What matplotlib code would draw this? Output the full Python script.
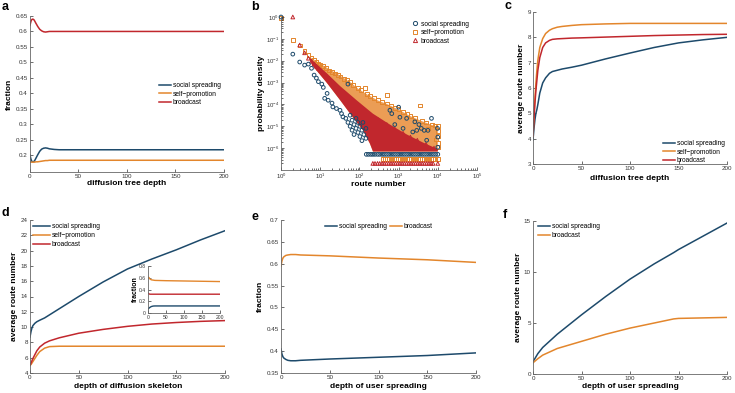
import numpy as np
import matplotlib
matplotlib.use("Agg")
import matplotlib.pyplot as plt

W, H = 735, 393

BLUE = '#1d4a6b'
ORANGE = '#e3862c'
RED = '#c1272d'
ORANGE_CORE = '#eb9d55'

# ---- panel a : fraction vs diffusion tree depth
a_x = [0, 1, 2, 3, 4, 5, 6, 8, 10, 12, 14, 16, 18, 20, 25, 30, 40, 60, 100, 150, 200]
a_social = [0.200, 0.186, 0.179, 0.178, 0.179, 0.183, 0.189, 0.201, 0.212, 0.219, 0.222, 0.223,
            0.222, 0.220, 0.218, 0.217, 0.217, 0.217, 0.217, 0.217, 0.217]
a_self = [0.177, 0.177, 0.177, 0.177, 0.177, 0.177, 0.178, 0.178, 0.179, 0.180, 0.181, 0.182,
          0.182, 0.183, 0.183, 0.183, 0.183, 0.183, 0.183, 0.183, 0.183]
a_broad = [0.620, 0.633, 0.639, 0.640, 0.638, 0.633, 0.627, 0.616, 0.607, 0.602, 0.599, 0.598,
           0.599, 0.600, 0.600, 0.600, 0.600, 0.600, 0.600, 0.600, 0.600]

# ---- panel b : route number distribution
b_social = [(1, 1.0), (2, 0.02), (3, 0.0087), (4, 0.0063), (5, 0.007), (6, 0.0045), (7, 0.0022),
            (8, 0.0016), (9, 0.0011), (11, 8.5e-4), (12, 6e-4), (13, 1.9e-4), (15, 3.2e-4),
            (16, 1.55e-4), (20, 1.15e-4), (21, 7.7e-5), (26, 6.5e-5), (32, 5.4e-5), (35, 3.8e-5),
            (38, 2.7e-5), (51, 8.5e-4), (45, 2.3e-5), (51, 1.5e-5), (58, 3.2e-5), (58, 1e-5),
            (65, 1.9e-5), (65, 6.6e-6), (73, 1.2e-5), (73, 4.2e-6), (82, 2.3e-5), (82, 8e-6),
            (92, 1.5e-5), (92, 5.2e-6), (103, 1e-5), (103, 3.4e-6), (116, 6.6e-6), (116, 2.2e-6),
            (123, 1.5e-5), (130, 4.2e-6), (147, 2.8e-6), (147, 8e-6), (600, 5.4e-5), (670, 3.8e-5),
            (1000, 7.5e-5), (1080, 2.6e-5), (1600, 2.3e-5), (2300, 5.5e-6), (2600, 1.6e-5),
            (2900, 6.5e-6), (3800, 8e-6), (4500, 6.5e-6), (5200, 2.3e-6), (5600, 6.5e-6),
            (6900, 2.3e-5), (9800, 8e-6), (10000, 3.2e-6), (10000, 1.1e-6), (800, 1.2e-5),
            (1300, 8e-6), (3300, 1.2e-5)]
b_social_floor_x = [150, 170, 195, 220, 250, 290, 330, 380, 430, 490, 560, 640, 730, 830, 950,
                    1080, 1230, 1400, 1600, 1820, 2080, 2370, 2700, 3080, 3500, 4000, 4560, 5200,
                    5930, 6760, 7700, 8780, 10000]
b_social_floor_y = 5.2e-7

b_self = [(1, 0.93), (2, 0.088), (3, 0.05), (4, 0.028), (5, 0.018), (6, 0.014), (7, 0.011),
          (8, 0.009), (9, 0.0075), (10, 0.0068), (12, 0.0058), (14, 0.0045), (17, 0.0036),
          (20, 0.0030), (24, 0.0026), (28, 0.0022), (33, 0.0019), (40, 0.0015), (48, 0.0013),
          (58, 0.0011), (70, 8e-4), (92, 5.7e-4), (139, 5.7e-4), (110, 4.5e-4), (156, 3e-4),
          (190, 2.4e-4), (240, 2.0e-4), (300, 1.6e-4), (380, 1.3e-4), (500, 2.7e-4), (500, 1.1e-4),
          (650, 9e-5), (800, 7e-5), (1000, 6e-5), (1300, 4.5e-5), (1700, 3.6e-5), (2000, 3e-5),
          (2600, 2.4e-5), (3500, 9e-5), (4000, 1.8e-5), (5000, 1.5e-5), (5600, 8e-6),
          (7000, 1.2e-5), (8500, 1.1e-5), (10000, 1e-5), (10000, 1.7e-6), (10000, 1.1e-6),
          (10000, 6e-6), (10000, 3.5e-6), (9000, 2.5e-6)]
b_self_floor_x = [400, 450, 510, 580, 660, 750, 850, 970, 1100, 1250, 1420, 1620, 1840, 2090,
                  2380, 2700, 3070, 3490, 3970, 4510, 5130, 5830, 6630, 7540, 8570, 10000]
b_self_floor_y = 3.1e-7
b_self_top_x = [5, 12, 32, 58, 92, 156, 300, 500, 1000, 2000, 4000, 7000, 10000]
b_self_top_y = [0.016, 6e-3, 2.1e-3, 1.05e-3, 5.3e-4, 2.9e-4, 1.5e-4, 1.05e-4, 5.8e-5, 2.9e-5,
                1.7e-5, 1.15e-5, 9.5e-6]

b_broad = [(2, 1.0), (3, 0.052), (4, 0.023), (5, 0.013), (6, 0.0095), (7, 0.0072), (8, 0.0056),
           (9, 0.0045), (10, 0.0038), (12, 0.0027), (14, 0.0021), (17, 0.0015), (20, 0.0011),
           (25, 7.5e-4), (30, 5.5e-4), (40, 3.4e-4), (55, 2.1e-4), (75, 1.3e-4), (100, 8e-5),
           (140, 5e-5), (200, 3.2e-5), (300, 2e-5), (500, 1.2e-5), (800, 7.5e-6), (1300, 4.8e-6),
           (2000, 3.2e-6), (3000, 2.3e-6), (5000, 1.5e-6), (8000, 1.0e-6), (10000, 2e-7)]
b_broad_floor_x = [220, 250, 290, 330, 380, 430, 490, 560, 640, 730, 830, 950, 1080, 1230, 1400,
                   1600, 1820, 2080, 2370, 2700, 3080, 3500, 4000, 4560, 5200, 5930, 6760, 7600]
b_broad_floor_y = 2e-7
b_broad_top_x = [5.5, 15, 32, 87, 220, 600, 1630, 4200, 10000]
b_broad_top_y = [0.013, 2.6e-3, 7e-4, 1.5e-4, 3.8e-5, 1.2e-5, 4.2e-6, 1.8e-6, 9e-7]
b_broad_low_x = [5.5, 6.2, 15, 32, 68, 123, 186, 222, 10000]
b_broad_low_y = [0.011, 6.3e-3, 9.4e-4, 1.6e-4, 2.6e-5, 6.6e-6, 1.6e-6, 7e-7, 7e-7]

# ---- panel c
c_x = [0, 1, 2, 3, 4, 5, 7, 10, 13, 17, 20, 25, 30, 40, 50, 75, 100, 125, 150, 175, 200]
c_social = [3.95, 4.4, 4.75, 5.0, 5.15, 5.35, 5.8, 6.2, 6.4, 6.58, 6.65, 6.7, 6.75, 6.82, 6.9,
            7.15, 7.38, 7.6, 7.78, 7.9, 8.0]
c_self = [4.1, 4.9, 5.6, 6.2, 6.7, 7.1, 7.6, 7.95, 8.15, 8.28, 8.34, 8.4, 8.43, 8.47, 8.5, 8.53,
          8.55, 8.55, 8.55, 8.55, 8.55]
c_broad = [4.1, 4.8, 5.4, 5.9, 6.3, 6.7, 7.2, 7.6, 7.78, 7.88, 7.92, 7.94, 7.95, 7.97, 7.98,
           8.01, 8.04, 8.07, 8.09, 8.11, 8.12]

# ---- panel d
d_x = [0, 1, 2, 3, 5, 7, 10, 15, 20, 30, 50, 75, 100, 125, 150, 175, 200]
d_social = [8.7, 9.4, 9.9, 10.2, 10.5, 10.7, 10.9, 11.2, 11.6, 12.4, 14.0, 15.9, 17.6, 18.9, 20.1,
            21.4, 22.6]
d_self = [5.0, 5.1, 5.3, 5.5, 5.9, 6.3, 6.8, 7.25, 7.45, 7.5, 7.5, 7.5, 7.5, 7.5, 7.5, 7.5, 7.5]
d_broad = [5.0, 5.3, 5.6, 5.9, 6.4, 6.9, 7.4, 7.9, 8.2, 8.6, 9.2, 9.7, 10.1, 10.4, 10.6, 10.75,
           10.85]
# inset of d
in_x = [0, 2, 4, 6, 10, 15, 20, 50, 100, 150, 200]
in_social = [0.065, 0.075, 0.085, 0.095, 0.11, 0.118, 0.12, 0.12, 0.12, 0.12, 0.12]
in_self = [0.60, 0.61, 0.60, 0.58, 0.565, 0.56, 0.555, 0.55, 0.545, 0.54, 0.535]
in_broad = [0.345, 0.33, 0.325, 0.32, 0.32, 0.32, 0.32, 0.32, 0.32, 0.32, 0.32]

# ---- panel e
e_x = [0, 1, 2, 3, 5, 7, 10, 15, 20, 50, 100, 150, 200]
e_social = [0.405, 0.393, 0.387, 0.384, 0.381, 0.379, 0.378, 0.378, 0.379, 0.382, 0.386, 0.390,
            0.396]
e_broad = [0.595, 0.607, 0.613, 0.616, 0.619, 0.620, 0.621, 0.621, 0.620, 0.618, 0.613, 0.609,
           0.603]

# ---- panel f
f_x = [0, 5, 10, 25, 50, 75, 100, 125, 145, 150, 175, 200]
f_social = [1.2, 2.0, 2.6, 3.9, 5.8, 7.6, 9.3, 10.8, 11.9, 12.2, 13.5, 14.8]
f_broad = [1.1, 1.5, 1.85, 2.5, 3.2, 3.9, 4.5, 5.0, 5.4, 5.45, 5.5, 5.55]

plt.rcParams['font.family'] = ['Liberation Sans', 'DejaVu Sans']
plt.rcParams['axes.unicode_minus'] = False

fig = plt.figure(figsize=(W / 100, H / 100), dpi=100)


def box(l, t, r, b):
    return [l / W, 1 - b / H, (r - l) / W, (b - t) / H]


def fxy(px, py):
    return (px / W, 1 - py / H)


def style(ax, size=4.5):
    for s in ['top', 'right']:
        ax.spines[s].set_visible(False)
    for s in ['left', 'bottom']:
        ax.spines[s].set_linewidth(0.6)
        ax.spines[s].set_color('#666666')
    ax.tick_params(which='both', direction='in', length=2, width=0.5, labelsize=size,
                   colors='#333333', pad=1.5)
    ax.tick_params(which='minor', length=1.2)


def labels(ax, xl, yl, xc, yc, ylx, yly):
    ax.set_xlabel(xl, fontsize=6, fontweight='bold', va='center')
    ax.xaxis.set_label_coords(*fxy(xc, yc), transform=fig.transFigure)
    ax.set_ylabel(yl, fontsize=6, fontweight='bold', va='center')
    ax.yaxis.set_label_coords(*fxy(ylx, yly), transform=fig.transFigure)


def legend(ax, handles, px, py, hl=1.8, ncol=1):
    ax.legend(handles=handles, loc='upper left', bbox_to_anchor=fxy(px, py),
              bbox_transform=fig.transFigure, frameon=False, fontsize=4.8, borderpad=0,
              borderaxespad=0, handlelength=hl, handletextpad=0.3, labelspacing=0.25,
              ncol=ncol, columnspacing=0.4)


def panel_letter(ch, px, py):
    fig.text(*fxy(px, py), ch, fontsize=9, fontweight='bold', ha='center', va='center')


lw = 1.1
xt = [0, 50, 100, 150, 200]

# a
ax = fig.add_axes(box(30, 16, 224, 172))
la, = ax.plot(a_x, a_social, color=BLUE, lw=lw, label='social spreading')
lb, = ax.plot(a_x, a_self, color=ORANGE, lw=lw, label='self\u2212promotion')
lc, = ax.plot(a_x, a_broad, color=RED, lw=lw, label='broadcast')
ax.set_xlim(0, 200)
ax.set_ylim(0.145, 0.65)
yt = [0.2, 0.25, 0.3, 0.35, 0.4, 0.45, 0.5, 0.55, 0.6, 0.65]
ax.set_yticks(yt, ['%g' % v for v in yt])
ax.set_xticks(xt)
style(ax)
labels(ax, 'diffusion tree depth', 'fraction', 127, 183.3, 9.3, 94)
legend(ax, [la, lb, lc], 159, 82)
panel_letter('a', 5, 7.5)

# b
ax = fig.add_axes(box(281, 17, 477, 170))
ax.set_xscale('log')
ax.set_yscale('log')
mk = dict(s=7, linewidths=0.7, facecolors='none', clip_on=False)
core_x = b_self_top_x + b_broad_low_x[::-1]
core_y = b_self_top_y + b_broad_low_y[::-1]
ax.fill(core_x, core_y, color=ORANGE_CORE, lw=0)
ax.scatter([p[0] for p in b_self], [p[1] for p in b_self], marker='s', edgecolors=ORANGE, **mk)
ax.scatter(b_self_floor_x, [b_self_floor_y] * len(b_self_floor_x), marker='s',
           edgecolors=ORANGE, **mk)
red_x = b_broad_top_x + b_broad_low_x[::-1]
red_y = b_broad_top_y + b_broad_low_y[::-1]
ax.fill(red_x, red_y, color=RED, lw=0)
ax.scatter([p[0] for p in b_broad], [p[1] for p in b_broad], marker='^', edgecolors=RED, **mk)
ax.scatter(b_broad_floor_x, [b_broad_floor_y] * len(b_broad_floor_x), marker='^',
           edgecolors=RED, **mk)
ax.scatter([p[0] for p in b_social], [p[1] for p in b_social], marker='o', edgecolors=BLUE, **mk)
ax.scatter(b_social_floor_x, [b_social_floor_y] * len(b_social_floor_x), marker='o',
           edgecolors=BLUE, **mk)
ax.set_xlim(1, 1e5)
ax.set_ylim(1e-7, 1)
ax.set_xticks([10.0 ** k for k in range(6)])
ax.set_yticks([10.0 ** -k for k in range(7)])
style(ax, 4.3)
labels(ax, 'route number', 'probability density', 378, 185, 261.7, 93)
h1 = plt.Line2D([], [], ls='none', marker='o', mfc='none', mec=BLUE, ms=3, mew=0.7,
                label='social spreading')
h2 = plt.Line2D([], [], ls='none', marker='s', mfc='none', mec=ORANGE, ms=3, mew=0.7,
                label='self\u2212promotion')
h3 = plt.Line2D([], [], ls='none', marker='^', mfc='none', mec=RED, ms=3, mew=0.7,
                label='broadcast')
legend(ax, [h1, h2, h3], 412, 20.5, hl=1.0)
panel_letter('b', 255, 7)

# c
ax = fig.add_axes(box(533, 12, 727, 164))
la, = ax.plot(c_x, c_social, color=BLUE, lw=lw, label='social spreading')
lb, = ax.plot(c_x, c_self, color=ORANGE, lw=lw, label='self\u2212promotion')
lc, = ax.plot(c_x, c_broad, color=RED, lw=lw, label='broadcast')
ax.set_xlim(0, 200)
ax.set_ylim(3, 9)
ax.set_xticks(xt)
ax.set_yticks(range(3, 10))
style(ax)
labels(ax, 'diffusion tree depth', 'average route number', 630, 178.3, 521.7, 88)
legend(ax, [la, lb, lc], 663, 140)
panel_letter('c', 508, 6)

# d
ax = fig.add_axes(box(30, 220, 225, 373))
la, = ax.plot(d_x, d_social, color=BLUE, lw=lw, label='social spreading')
lb, = ax.plot(d_x, d_self, color=ORANGE, lw=lw, label='self\u2212promotion')
lc, = ax.plot(d_x, d_broad, color=RED, lw=lw, label='broadcast')
ax.set_xlim(0, 200)
ax.set_ylim(4, 24)
ax.set_xticks(xt)
ax.set_yticks(range(4, 25, 2))
style(ax)
labels(ax, 'depth of diffusion skeleton', 'average route number', 127.7, 386.7, 15, 296)
legend(ax, [la, lb, lc], 33, 223.5, hl=2.5)
panel_letter('d', 5, 213)

ins = fig.add_axes(box(147.7, 266, 220, 313))
ins.plot(in_x, in_social, color=BLUE, lw=1.0)
ins.plot(in_x, in_self, color=ORANGE, lw=1.0)
ins.plot(in_x, in_broad, color=RED, lw=1.0)
ins.set_xlim(0, 200)
ins.set_ylim(0, 0.8)
ins.set_xticks(xt)
ins.set_yticks([0, 0.2, 0.4, 0.6, 0.8], ['0', '0.2', '0.4', '0.6', '0.8'])
style(ins, 3.6)
ins.set_ylabel('fraction', fontsize=5, fontweight='bold', va='center')
ins.yaxis.set_label_coords(*fxy(135, 289), transform=fig.transFigure)

# e
ax = fig.add_axes(box(281, 220, 476, 373))
la, = ax.plot(e_x, e_social, color=BLUE, lw=lw, label='social spreading')
lb, = ax.plot(e_x, e_broad, color=ORANGE, lw=lw, label='broadcast')
ax.set_xlim(0, 200)
ax.set_ylim(0.35, 0.7)
ax.set_xticks(xt)
yt = [0.35, 0.4, 0.45, 0.5, 0.55, 0.6, 0.65, 0.7]
ax.set_yticks(yt, ['%g' % v for v in yt])
style(ax)
labels(ax, 'depth of user spreading', 'fraction', 378.3, 386.7, 260, 296)
legend(ax, [la, lb], 325, 223.5, ncol=2)
panel_letter('e', 255, 217)

# f
ax = fig.add_axes(box(533, 221, 727, 374))
la, = ax.plot(f_x, f_social, color=BLUE, lw=lw, label='social spreading')
lb, = ax.plot(f_x, f_broad, color=ORANGE, lw=lw, label='broadcast')
ax.set_xlim(0, 200)
ax.set_ylim(0, 15)
ax.set_xticks(xt)
ax.set_yticks([0, 5, 10, 15])
style(ax)
labels(ax, 'depth of user spreading', 'average route number', 630, 386.7, 518.3, 297)
legend(ax, [la, lb], 538, 223.5)
panel_letter('f', 505, 215)

fig.savefig('out.png', dpi=100)
